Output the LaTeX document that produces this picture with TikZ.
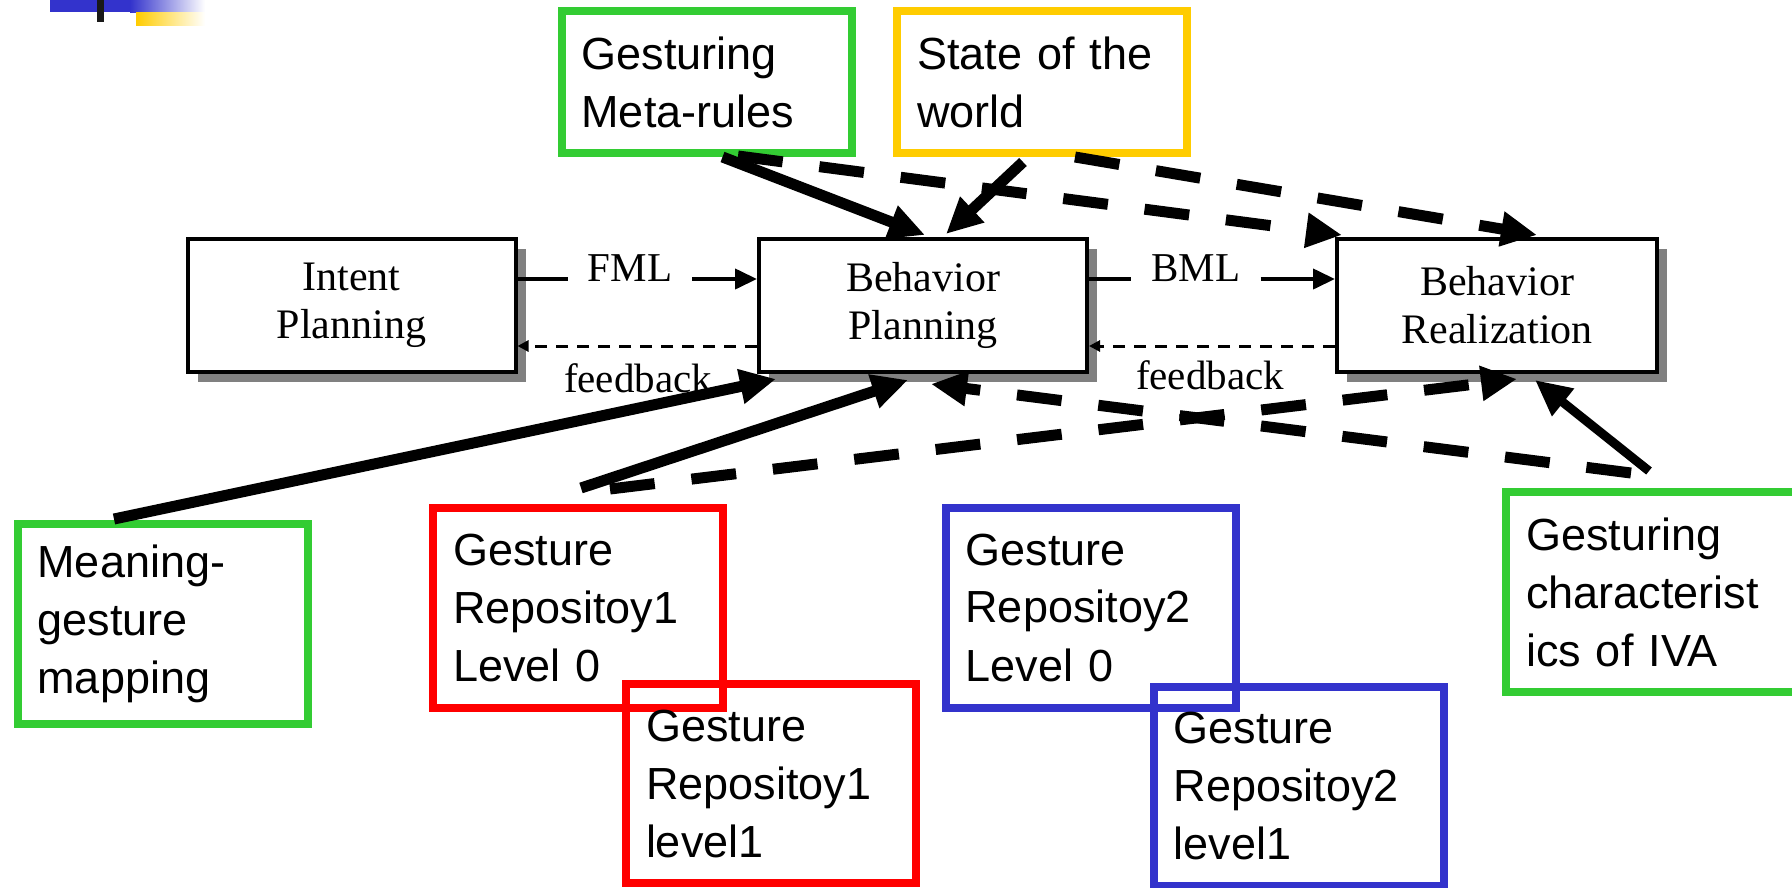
\documentclass[tikz,border=0pt]{standalone}
\usepackage{fontspec}
\setmainfont{Liberation Serif}
\newfontfamily\sansf{Liberation Sans}
\usetikzlibrary{arrows.meta,shadows}
\definecolor{cgreen}{HTML}{33CC33}
\definecolor{cred}{HTML}{FF0000}
\definecolor{cblue}{HTML}{3333CC}
\definecolor{cyellow}{HTML}{FFCC00}
\begin{document}
\begin{tikzpicture}[x=1pt,y=-1pt,
  mbox/.style={draw, line width=4pt, rectangle, minimum width=328pt, minimum height=133pt,
    fill=white, align=center, font=\fontsize{42}{48}\selectfont,
    drop shadow={shadow xshift=10pt, shadow yshift=-10pt, fill=black!50, opacity=1}},
  cbox/.style={draw=#1, line width=8pt, rectangle, minimum height=200pt, text width=250pt,
    inner xsep=20pt, inner ysep=0pt, align=left, font=\sansf\fontsize{45}{58}\selectfont},
  lab/.style={font=\fontsize{41}{48}\selectfont, inner xsep=20pt, inner ysep=0pt},
  thinline/.style={line width=4pt},
  thinarrow/.style={line width=4pt, -{Triangle[length=22pt,width=20pt]}},
  fbarrow/.style={line width=3pt, dash pattern=on 12pt off 9pt, -{Triangle[length=11pt,width=11pt]}},
  thick/.style={line width=11pt, -{Triangle[length=36pt,width=33pt]}},
  thickdash/.style={line width=11pt, dash pattern=on 45pt off 37pt, -{Triangle[length=36pt,width=33pt]}}
]
\clip (0,0) rectangle (1792,887);
\fill[white] (0,0) rectangle (1792,887);

% top-left decoration
\fill[cblue] (50,0) rectangle (130,12);
\shade[left color=cblue, right color=white] (130,0) rectangle (205,12);
\shade[left color=cyellow, right color=white] (136,12) rectangle (205,25);
\fill[black!90] (97,0) rectangle (104,22);

% main boxes
\node[mbox] (IP) at (351.5,305.5) {Intent\\Planning};
\node[mbox] (BP) at (923,305.5) {Behavior\\Planning};
\node[mbox, minimum width=320pt] (BR) at (1497,305.5) {Behavior\\Realization};

% coloured boxes
\node[cbox=cgreen, minimum height=142pt] (MR) at (706.5,82) {Gesturing\\Meta-rules};
\node[cbox=cyellow, minimum height=142pt] (SW) at (1042,82) {State of the\\world};
\node[cbox=cgreen] (MG) at (162.5,624) {Meaning-\\gesture\\mapping};
\node[cbox=cred] (R1a) at (578,608) {Gesture\\Repositoy1\\Level 0};
\node[cbox=cred, minimum height=199pt] (R1b) at (771,783.5) {Gesture\\Repositoy1\\level1};
\node[cbox=cblue] (R2a) at (1090.5,607.5) {Gesture\\Repositoy2\\Level 0};
\node[cbox=cblue, minimum height=199pt] (R2b) at (1298.5,786) {Gesture\\Repositoy2\\level1};
\node[cbox=cgreen] (GC) at (1651,592) {Gesturing\\characterist\\ics of IVA};

% FML / BML
\node[lab, anchor=mid] (FML) at (630,279) {FML};
\node[lab, anchor=mid] (BML) at (1196,279) {BML};
\draw[thinline] (IP.east |- FML.mid west) -- (FML.mid west);
\draw[thinarrow] (FML.mid east) -- (BP.west |- FML.mid east);
\draw[thinline] (BP.east |- BML.mid west) -- (BML.mid west);
\draw[thinarrow] (BML.mid east) -- (BR.west |- BML.mid east);

% feedback
\draw[fbarrow] ([yshift=-40.5pt]BP.west) -- ([yshift=-40.5pt]IP.east);
\draw[fbarrow] ([yshift=-40.5pt]BR.west) -- ([yshift=-40.5pt]BP.east);
\node[lab, anchor=base] (fb1) at (638,392) {feedback};
\node[lab, anchor=base] (fb2) at (1210,389) {feedback};

% thick connectors
\draw[thick] ([xshift=16pt]MR.south) -- ([xshift=2pt,yshift=2pt]BP.north);
\draw[thick] ([xshift=-19pt,yshift=-5pt]SW.south) -- ([xshift=23pt,yshift=3pt]BP.north);
\draw[thickdash] ([xshift=31.5pt,yshift=1pt]MR.south) -- ([xshift=7pt,yshift=2pt]BR.north west);
\draw[thickdash] ([xshift=33pt]SW.south) -- ([xshift=40pt,yshift=2pt]BR.north);
\draw[thick] ([xshift=-48.5pt,yshift=1pt]MG.north) -- ([xshift=19pt,yshift=-5pt]BP.south west);
\draw[thick] ([xshift=3pt,yshift=16pt]R1a.north) -- ([xshift=-15pt,yshift=-6pt]BP.south);
\draw[thickdash] ([xshift=32pt,yshift=15pt]R1a.north) -- ([xshift=20pt,yshift=-5pt]BR.south);
\draw[thickdash] ([xshift=-20pt,yshift=15pt]GC.north) -- ([xshift=8pt,yshift=-10pt]BP.south);
\draw[thick, line width=9pt] ([xshift=-2pt,yshift=17pt]GC.north) -- ([xshift=38pt,yshift=-6pt]BR.south);
\end{tikzpicture}
\end{document}
